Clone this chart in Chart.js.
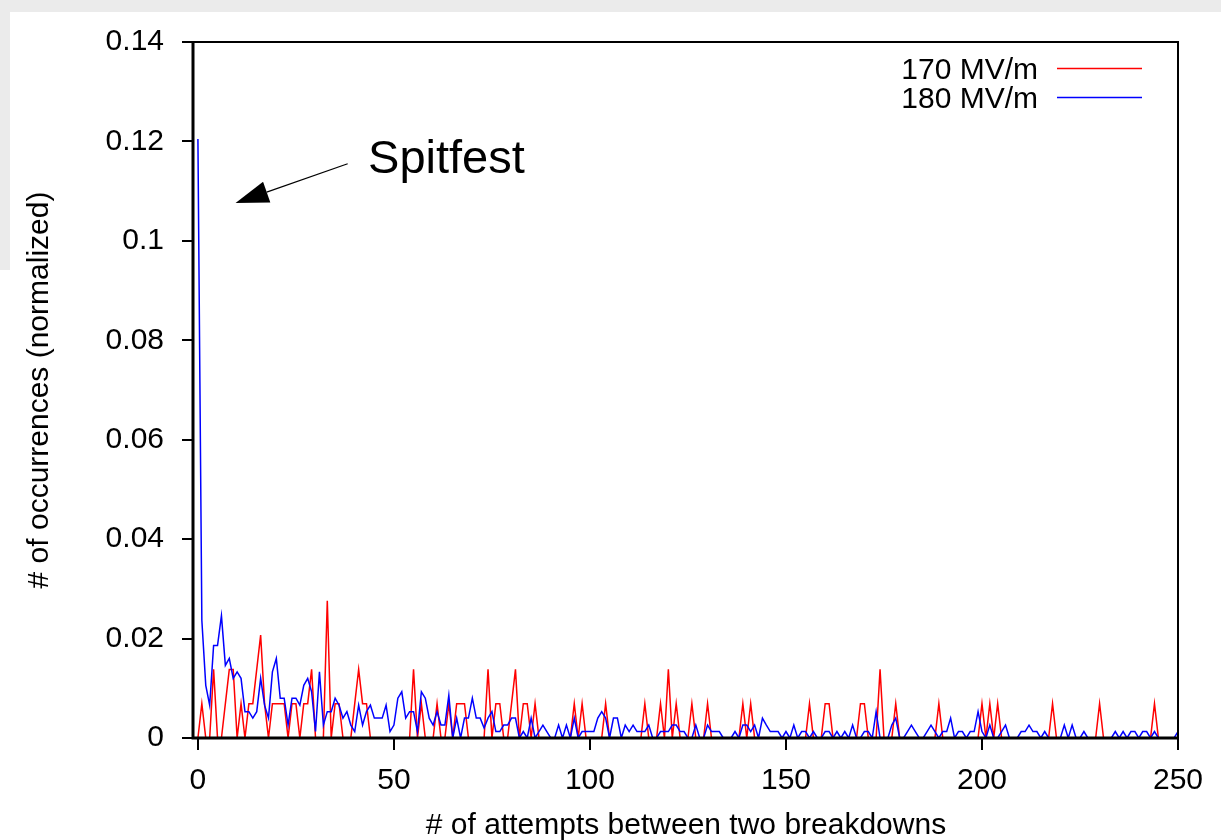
<!DOCTYPE html>
<html><head><meta charset="utf-8">
<script src="https://cdn.jsdelivr.net/npm/chart.js@4"></script>
<style>
html,body{margin:0;padding:0;background:#fff;}
#wrap{position:relative;width:1221px;height:840px;overflow:hidden;background:#fff;}
.g{position:absolute;background:#ebebeb;}
canvas{position:absolute;left:0;top:0;}
</style></head><body>
<div id="wrap">
<div class="g" style="left:0;top:0;width:1221px;height:12px"></div>
<div class="g" style="left:0;top:0;width:10px;height:270px"></div>
<canvas id="c" width="1221" height="840"></canvas>
</div>
<script>
// ---- data ----
const seriesNames = ['170 MV/m', '180 MV/m'];
const xTitle = '# of attempts between two breakdowns';
const yTitle = '# of occurrences (normalized)';
const xTicks = [0, 50, 100, 150, 200, 250];
const yTicks = [0, 0.02, 0.04, 0.06, 0.08, 0.1, 0.12, 0.14];
const yTickLabels = ['0', '0.02', '0.04', '0.06', '0.08', '0.1', '0.12', '0.14'];
const annotationText = 'Spitfest';

// 170 MV/m, index = number of attempts (0..250)
const red170 = [
 0,0.0069,0,0,0.0138,0,0,0.0069,0.0138,0.0138,
 0,0.0069,0,0.0069,0.0069,0.0138,0.0207,0.0069,0,0.0069,
 0.0069,0.0069,0.0069,0,0.0069,0.0069,0,0.0069,0.0069,0.0138,
 0,0,0,0.0276,0,0.0069,0.0069,0,0,0,
 0.0069,0.0138,0.0069,0.0069,0,0,0,0,0,0,
 0,0,0,0,0,0.0138,0,0.0069,0,0,
 0,0.0069,0,0,0.0069,0,0.0069,0.0069,0.0069,0,
 0,0,0,0,0.0138,0,0.0069,0.0069,0,0,
 0.0069,0.0138,0,0.0069,0.0069,0,0.0069,0,0,0,
 0,0,0,0,0,0,0.0069,0,0.0069,0,
 0,0,0,0,0.0069,0,0,0,0,0,
 0,0,0,0,0.0069,0,0,0,0.0069,0,
 0.0138,0,0.0069,0,0,0,0.0069,0,0,0,
 0.0069,0,0,0,0,0,0,0,0,0.0069,
 0,0.0069,0,0,0,0,0,0,0,0,
 0,0,0,0,0,0,0.0069,0,0,0,
 0.0069,0.0069,0,0,0,0,0,0,0,0.0069,
 0.0069,0,0,0,0.0138,0,0,0,0.0069,0,
 0,0,0,0,0,0,0,0,0,0.0069,
 0,0,0,0,0,0,0,0,0,0,
 0.0069,0,0.0069,0,0.0069,0,0,0,0,0,
 0,0,0,0,0,0,0,0,0.0069,0,
 0,0,0,0,0,0,0,0,0,0,
 0.0069,0,0,0,0,0,0,0,0,0,
 0,0,0,0,0.0069,0,0,0,0,0,
 0
];

// 180 MV/m
const blue180 = [
 0.1205,0.0237,0.0106,0.0066,0.0186,0.0186,0.0246,0.0146,0.0160,0.0120,
 0.0133,0.0120,0.0053,0.0053,0.0040,0.0053,0.0120,0.0066,0.0040,0.0133,
 0.0160,0.0080,0.0080,0.0026,0.0080,0.0080,0.0066,0.0106,0.0120,0.0093,
 0.0013,0.0133,0.0026,0.0053,0.0053,0.0080,0.0066,0.0040,0.0053,0.0026,
 0.0013,0.0066,0.0026,0.0053,0.0066,0.0040,0.0040,0.0040,0.0066,0.0013,
 0.0026,0.0080,0.0093,0.0040,0.0053,0.0053,0.0013,0.0093,0.0080,0.0040,
 0.0026,0.0053,0.0026,0.0026,0.0086,0,0.0040,0,0.0040,0.0040,
 0.0080,0.0040,0.0040,0.0020,0.0040,0.0053,0.0013,0.0013,0.0026,0.0026,
 0.0040,0.0040,0,0.0013,0,0.0040,0,0.0013,0.0026,0.0013,
 0,0,0.0026,0,0.0026,0,0.0040,0,0.0013,0.0013,
 0.0013,0.0013,0.0040,0.0053,0.0040,0,0.0040,0.0040,0,0.0026,
 0.0013,0.0026,0.0013,0.0013,0.0013,0.0026,0,0,0.0013,0.0013,
 0.0013,0.0026,0.0026,0.0013,0.0013,0,0,0.0026,0,0,
 0.0026,0.0013,0.0013,0.0013,0,0,0,0.0013,0,0.0026,
 0.0026,0.0013,0.0026,0,0.0040,0.0026,0.0013,0.0013,0.0013,0,
 0.0013,0,0.0026,0,0.0013,0.0013,0,0.0013,0,0,
 0.0013,0.0013,0,0.0013,0,0.0013,0,0.0026,0,0,
 0.0013,0.0013,0,0.0053,0,0,0,0.0026,0.0040,0,
 0,0.0013,0.0026,0.0013,0,0,0.0013,0.0026,0.0013,0,
 0.0013,0.0013,0.0040,0,0.0013,0.0013,0,0.0013,0.0013,0.0053,
 0.0013,0,0.0026,0,0,0.0013,0.0026,0,0,0,
 0.0013,0.0013,0.0026,0.0013,0.0013,0,0.0013,0,0,0,
 0,0.0026,0,0.0026,0,0,0.0013,0,0,0,
 0,0,0,0,0.0013,0,0.0013,0,0.0013,0.0013,
 0,0.0013,0.0013,0,0.0013,0,0,0,0,0,
 0.0013
];

// annotation anchor points in data units
const arrowTail = {x: 38.2, y: 0.1155};
const arrowTip = {x: 9.6, y: 0.1076};
const labelAnchor = {x: 43.4, y: 0.1137};

const attempts = red170.map((_, i) => i);
const FONT = "'Liberation Sans', Arial, Helvetica, sans-serif";
Chart.defaults.font.family = FONT;
Chart.defaults.color = '#000';

const framePlugin = {
  id: 'frame',
  afterDatasetsDraw(chart) {
    const {ctx, chartArea: a, scales} = chart;
    ctx.save();
    ctx.strokeStyle = '#000';
    // top & right
    ctx.lineWidth = 2;
    ctx.beginPath();
    ctx.moveTo(a.left, a.top); ctx.lineTo(a.right, a.top); ctx.lineTo(a.right, a.bottom);
    ctx.stroke();
    // left & bottom (thicker)
    ctx.lineWidth = 3;
    ctx.beginPath();
    ctx.moveTo(a.left - 1, a.top - 1); ctx.lineTo(a.left - 1, a.bottom); ctx.lineTo(a.right + 1, a.bottom);
    ctx.stroke();

    // legend (right-aligned labels, line samples)
    ctx.font = '30px ' + FONT;
    ctx.textAlign = 'right';
    ctx.textBaseline = 'alphabetic';
    const ds = chart.data.datasets;
    [0, 1].forEach(k => {
      const d = ds.find(s => s.label === seriesNames[k]);
      const yc = 68.5 + k * 29;
      ctx.fillStyle = '#000';
      ctx.fillText(d.label, 1038, yc + 10.5);
      ctx.strokeStyle = d.borderColor;
      ctx.lineWidth = 1.5;
      ctx.beginPath(); ctx.moveTo(1057, yc); ctx.lineTo(1142, yc); ctx.stroke();
    });

    // annotation arrow + text
    const x = scales.x, y = scales.y;
    const tx = x.getPixelForValue(arrowTail.x), ty = y.getPixelForValue(arrowTail.y);
    const px = x.getPixelForValue(arrowTip.x), py = y.getPixelForValue(arrowTip.y);
    const ang = Math.atan2(py - ty, px - tx);
    const headLen = 33, halfW = 11;
    const bx = px - headLen * Math.cos(ang), by = py - headLen * Math.sin(ang);
    ctx.strokeStyle = '#000';
    ctx.lineWidth = 1.2;
    ctx.beginPath(); ctx.moveTo(tx, ty); ctx.lineTo(bx, by); ctx.stroke();
    ctx.fillStyle = '#000';
    ctx.beginPath();
    ctx.moveTo(px, py);
    ctx.lineTo(bx + halfW * Math.sin(ang), by - halfW * Math.cos(ang));
    ctx.lineTo(bx - halfW * Math.sin(ang), by + halfW * Math.cos(ang));
    ctx.closePath(); ctx.fill();
    ctx.font = '47px ' + FONT;
    ctx.textAlign = 'left';
    ctx.fillText(annotationText, x.getPixelForValue(labelAnchor.x), y.getPixelForValue(labelAnchor.y));
    ctx.restore();
  }
};

new Chart(document.getElementById('c'), {
  type: 'line',
  data: {
    datasets: [
      {label: seriesNames[1], data: attempts.map((v, i) => ({x: v, y: blue180[i]})),
       borderColor: '#0000ff', borderWidth: 1.5, pointRadius: 0, tension: 0, fill: false, order: 0},
      {label: seriesNames[0], data: attempts.map((v, i) => ({x: v, y: red170[i]})),
       borderColor: '#ff0000', borderWidth: 1.5, pointRadius: 0, tension: 0, fill: false, order: 1}
    ]
  },
  options: {
    responsive: false,
    animation: false,
    layout: {padding: {top: 42, right: 43, left: 0, bottom: 0}},
    plugins: {legend: {display: false}, tooltip: {enabled: false}},
    scales: {
      x: {
        type: 'linear', min: -1, max: 250,
        afterBuildTicks: s => { s.ticks = xTicks.map(v => ({value: v})); },
        afterFit: s => { s.height = 102; },
        grid: {drawOnChartArea: false, drawTicks: true, tickLength: 12, color: '#000', lineWidth: 2},
        border: {display: false},
        ticks: {font: {size: 30}, padding: 13, maxRotation: 0, autoSkip: false, callback: v => String(v)},
        title: {display: true, text: xTitle, font: {size: 30}, padding: {top: 0, bottom: -4}}
      },
      y: {
        min: 0, max: 0.14,
        afterBuildTicks: s => { s.ticks = yTicks.map(v => ({value: v})); },
        afterFit: s => { s.width = 194; },
        grid: {drawOnChartArea: false, drawTicks: true, tickLength: 12, color: '#000', lineWidth: 2},
        border: {display: false},
        ticks: {font: {size: 30}, padding: 18, autoSkip: false,
                callback: v => yTickLabels[yTicks.indexOf(v)]},
        title: {display: true, text: yTitle, font: {size: 30}, padding: {top: 22, bottom: 0}}
      }
    }
  },
  plugins: [framePlugin]
});
</script>
</body></html>
